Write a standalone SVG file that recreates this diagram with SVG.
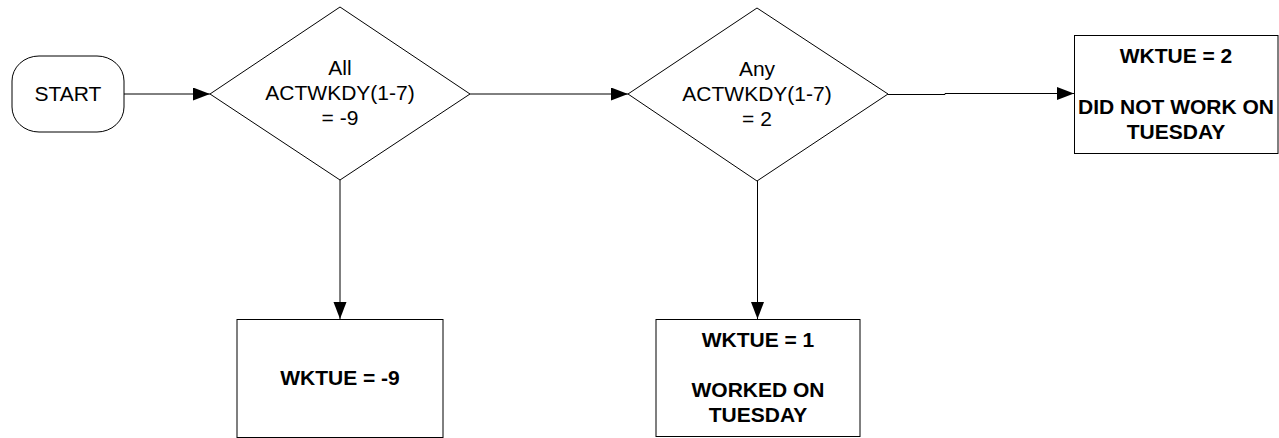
<svg xmlns="http://www.w3.org/2000/svg" width="1279" height="438" viewBox="0 0 1279 438">
<style>
.shape{fill:#fff;stroke:#000;stroke-width:1}
.conn{fill:none;stroke:#000;stroke-width:1}
.t{font-family:"Liberation Sans",Arial,sans-serif;font-size:21px;fill:#000;text-anchor:middle}
.b{font-weight:bold}
</style>
<defs>
<marker id="arr" markerUnits="userSpaceOnUse" markerWidth="18" markerHeight="14" refX="17" refY="6.5" orient="auto">
<path d="M0,0 L17,6.5 L0,13 Z" fill="#000"/>
</marker>
</defs>
<g id="connectors">
<line class="conn" x1="124" y1="94" x2="210" y2="94" marker-end="url(#arr)"/>
<line class="conn" x1="470" y1="94" x2="628" y2="94" marker-end="url(#arr)"/>
<path class="conn" d="M888,94.5 H945 V93.5 H1074" marker-end="url(#arr)"/>
<line class="conn" x1="340" y1="180" x2="340" y2="319" marker-end="url(#arr)"/>
<line class="conn" x1="757.5" y1="181" x2="757.5" y2="319" marker-end="url(#arr)"/>
</g>
<g id="start">
<rect class="shape" x="12" y="56" width="112" height="76" rx="27" ry="25"/>
<text class="t" x="68" y="101">START</text>
</g>
<g id="decision1">
<polygon class="shape" points="210,94 340,7 470,94 340,180"/>
<text class="t" x="340" y="75">All</text>
<text class="t" x="340" y="100">ACTWKDY(1-7)</text>
<text class="t" x="340" y="125">= -9</text>
</g>
<g id="decision2">
<polygon class="shape" points="628,94 757,8 888,94 757,181"/>
<text class="t" x="757" y="76">Any</text>
<text class="t" x="757" y="101">ACTWKDY(1-7)</text>
<text class="t" x="757" y="126">= 2</text>
</g>
<g id="result-minus9">
<rect class="shape" x="237" y="319.5" width="206" height="118"/>
<text class="t b" x="340" y="385">WKTUE = -9</text>
</g>
<g id="result-1">
<rect class="shape" x="656" y="319.5" width="204" height="117"/>
<text class="t b" x="758" y="347">WKTUE = 1</text>
<text class="t b" x="758" y="397">WORKED ON</text>
<text class="t b" x="758" y="422">TUESDAY</text>
</g>
<g id="result-2">
<rect class="shape" x="1074.5" y="35.5" width="203.5" height="118"/>
<text class="t b" x="1176" y="63">WKTUE = 2</text>
<text class="t b" x="1176" y="114">DID NOT WORK ON</text>
<text class="t b" x="1176" y="139">TUESDAY</text>
</g>
</svg>
